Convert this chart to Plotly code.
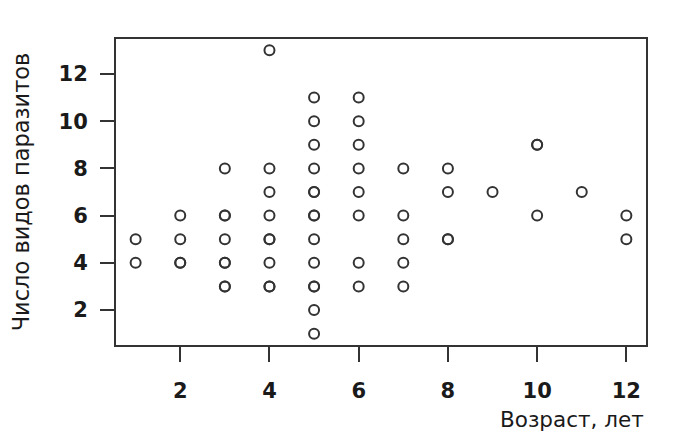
import plotly.graph_objects as go

# Age (years) and number of parasite species; duplicates kept as repeated points
age = [1, 1,
       2, 2, 2, 2,
       3, 3, 3, 3, 3, 3, 3, 3,
       4, 4, 4, 4, 4, 4, 4, 4, 4,
       5, 5, 5, 5, 5, 5, 5, 5, 5, 5, 5, 5, 5, 5,
       6, 6, 6, 6, 6, 6, 6, 6,
       7, 7, 7, 7, 7,
       8, 8, 8, 8,
       9,
       10, 10, 10,
       11,
       12, 12]
species = [4, 5,
           4, 4, 5, 6,
           3, 3, 4, 4, 5, 6, 6, 8,
           3, 3, 4, 5, 5, 6, 7, 8, 13,
           1, 2, 3, 3, 4, 5, 6, 6, 7, 7, 8, 9, 10, 11,
           3, 4, 6, 7, 8, 9, 10, 11,
           3, 4, 5, 6, 8,
           5, 5, 7, 8,
           7,
           6, 9, 9,
           7,
           5, 6]

x_ticks = [2, 4, 6, 8, 10, 12]
y_ticks = [2, 4, 6, 8, 10, 12]
x_title = "Возраст, лет"
y_title = "Число видов паразитов"

FONT = "DejaVu Sans"
INK = "#1a1a1a"

fig = go.Figure(go.Scatter(
    x=age, y=species, mode="markers",
    marker=dict(symbol="circle-open", size=10, color="#333333",
                line=dict(width=2, color="#333333")),
    hoverinfo="x+y",
))

tick_font = dict(family=FONT, size=21, color=INK, weight="bold")

fig.update_layout(
    width=665, height=430,
    margin=dict(l=108, r=27, t=31, b=93),
    paper_bgcolor="white", plot_bgcolor="white",
    showlegend=False,
    font=dict(family=FONT, size=21, color=INK),
    xaxis=dict(range=[0.56, 12.44], tickvals=x_ticks, ticks="outside",
               ticklen=15, tickwidth=2, tickcolor="#333333",
               showline=True, mirror=True, linecolor="#333333", linewidth=2,
               showgrid=False, zeroline=False, ticklabelstandoff=11,
               tickfont=tick_font),
    yaxis=dict(range=[0.52, 13.48], tickvals=y_ticks, ticks="outside",
               ticklen=14, tickwidth=2, tickcolor="#333333",
               showline=True, mirror=True, linecolor="#333333", linewidth=2,
               showgrid=False, zeroline=False, ticklabelstandoff=8,
               tickfont=tick_font,
               title=dict(text=y_title, standoff=23,
                          font=dict(family=FONT, size=22.5, color=INK))),
    annotations=[dict(text=x_title, xref="paper", yref="paper",
                      x=1.0, y=0, xanchor="right", yanchor="middle",
                      yshift=-74, showarrow=False,
                      font=dict(family=FONT, size=21.5, color=INK))],
)

fig.write_html("out.html")
